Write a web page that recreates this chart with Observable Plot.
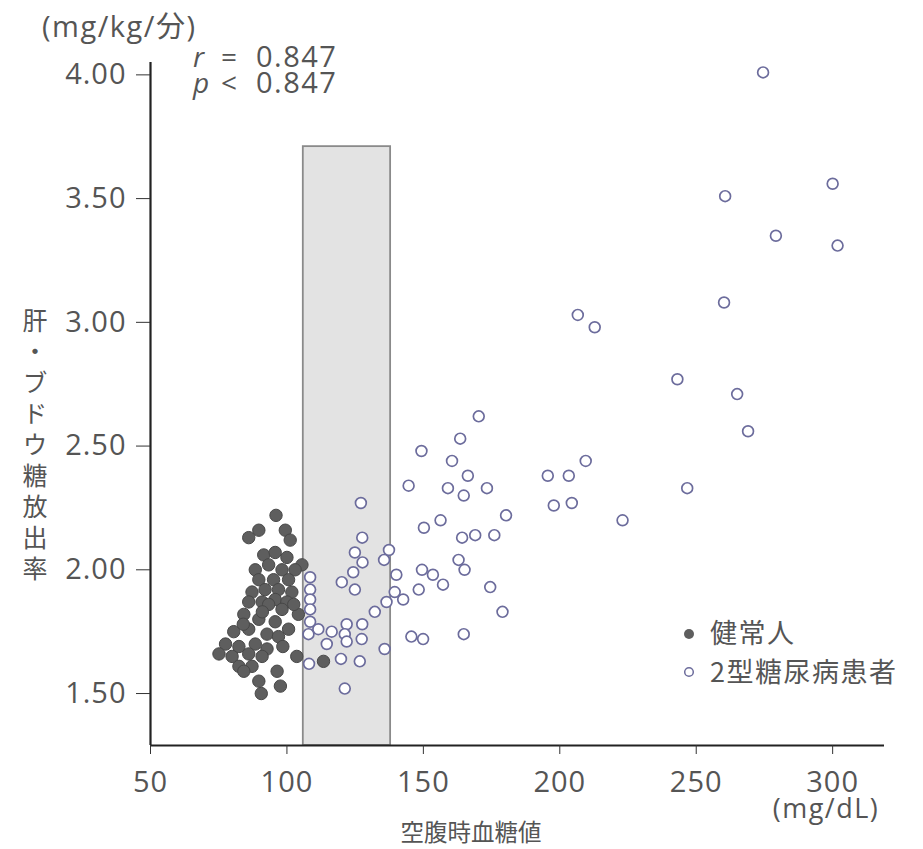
<!DOCTYPE html>
<html>
<head>
<meta charset="utf-8">
<script src="https://cdn.jsdelivr.net/npm/d3@7"></script>
<script src="https://cdn.jsdelivr.net/npm/@observablehq/plot@0.6"></script>
<style>
  html, body { margin: 0; padding: 0; background: #fff; }
  svg { display: block; }
</style>
</head>
<body>
<div id="chart"></div>
<script>
// ---- data ----
const healthyX = [96.0, 89.7, 86.0, 99.4, 101.2, 91.5, 95.7, 100.0, 105.5, 88.4, 93.3, 98.2, 103.0, 89.7, 95.1, 100.6, 87.2, 92.0, 96.9, 101.8, 86.0, 90.9, 95.7, 100.0, 93.3, 98.2, 104.2, 84.2, 89.7, 95.7, 100.6, 80.5, 86.0, 92.7, 96.9, 77.5, 82.4, 88.4, 92.7, 75.1, 79.9, 86.0, 90.9, 82.4, 87.2, 84.2, 96.4, 89.7, 97.6, 90.6, 103.6, 113.4, 91.0, 84.0, 98.5, 102.5];
const healthyY = [2.22, 2.16, 2.13, 2.16, 2.12, 2.06, 2.07, 2.05, 2.02, 2.00, 2.02, 2.00, 2.00, 1.96, 1.96, 1.96, 1.91, 1.92, 1.92, 1.91, 1.87, 1.87, 1.88, 1.87, 1.86, 1.84, 1.82, 1.82, 1.80, 1.79, 1.76, 1.75, 1.76, 1.74, 1.73, 1.70, 1.69, 1.70, 1.68, 1.66, 1.65, 1.66, 1.65, 1.61, 1.61, 1.59, 1.59, 1.55, 1.53, 1.50, 1.65, 1.63, 1.83, 1.78, 1.69, 1.86];

const diabetesX = [274.5, 300.0, 260.6, 279.2, 301.8, 260.2, 206.6, 212.8, 243.1, 265.0, 269.0, 246.7, 223.0, 209.5, 195.6, 203.3, 197.8, 204.4, 170.3, 163.5, 149.3, 160.5, 166.3, 144.6, 159.0, 164.8, 173.3, 180.3, 156.3, 150.2, 164.2, 169.0, 176.0, 162.9, 165.1, 149.5, 153.5, 157.2, 148.3, 142.6, 174.5, 179.0, 145.6, 149.9, 164.8, 127.1, 127.6, 124.9, 127.7, 137.4, 135.6, 124.3, 140.1, 108.5, 120.1, 108.5, 124.9, 108.5, 139.5, 136.5, 132.2, 108.5, 108.5, 111.5, 116.4, 121.9, 127.6, 107.9, 121.2, 127.4, 121.9, 114.6, 135.8, 119.8, 126.7, 108.1, 121.2];
const diabetesY = [4.01, 3.56, 3.51, 3.35, 3.31, 3.08, 3.03, 2.98, 2.77, 2.71, 2.56, 2.33, 2.20, 2.44, 2.38, 2.38, 2.26, 2.27, 2.62, 2.53, 2.48, 2.44, 2.38, 2.34, 2.33, 2.30, 2.33, 2.22, 2.20, 2.17, 2.13, 2.14, 2.14, 2.04, 2.00, 2.00, 1.98, 1.94, 1.92, 1.88, 1.93, 1.83, 1.73, 1.72, 1.74, 2.27, 2.13, 2.07, 2.03, 2.08, 2.04, 1.99, 1.98, 1.97, 1.95, 1.92, 1.92, 1.88, 1.91, 1.87, 1.83, 1.84, 1.79, 1.76, 1.75, 1.78, 1.78, 1.74, 1.74, 1.72, 1.71, 1.70, 1.68, 1.64, 1.63, 1.62, 1.52];

const xTicks = [50, 100, 150, 200, 250, 300];
const yTicks = [1.5, 2.0, 2.5, 3.0, 3.5, 4.0];
const bandRange = [106, 138];   // shaded fasting glucose band (mg/dL)
const bandTop = 3.71;
const statR = "0.847";
const statP = "0.847";
const legendLabels = ["健常人", "2型糖尿病患者"];
const xLabel = "空腹時血糖値";
const xUnit = "(mg/dL)";
const yLabel = "肝・ブドウ糖放出率";
const yUnit = "(mg/kg/分)";

const xDomain = [50, 319];
const yDomain = [1.29, 4.05];

// ---- build ----
const healthy = healthyX.map((x, i) => ({x, y: healthyY[i]}));
const diabetes = diabetesX.map((x, i) => ({x, y: diabetesY[i]}));
const band = [{x1: bandRange[0], x2: bandRange[1], y1: yDomain[0], y2: bandTop}];

const textColor = "#555";
const latinFont = "'Open Sans', 'Noto Sans CJK JP', sans-serif";
const cjkFont = "'Noto Sans CJK JP', sans-serif";

const plot = Plot.plot({
  width: 923,
  height: 849,
  marginLeft: 150,
  marginRight: 39,
  marginTop: 62,
  marginBottom: 104,
  style: {fontFamily: latinFont, fontSize: "29px", letterSpacing: "1px", color: textColor, background: "#fff"},
  x: {domain: xDomain},
  y: {domain: yDomain},
  marks: [
    Plot.rect(band, {x1: "x1", x2: "x2", y1: "y1", y2: "y2", fill: "#e3e3e3", stroke: "#8a8a8a", strokeWidth: 1.8}),
    Plot.dot(healthy, {x: "x", y: "y", r: 6.2, fill: "#5e5e5e", stroke: "#484848", strokeWidth: 1}),
    Plot.dot(diabetes, {x: "x", y: "y", r: 5.4, fill: "#fff", stroke: "#6c6c9c", strokeWidth: 1.7}),
    Plot.ruleX([xDomain[0]], {stroke: "#222", strokeWidth: 2.2}),
    Plot.ruleY([yDomain[0]], {stroke: "#222", strokeWidth: 2.2}),
    Plot.axisX({ticks: xTicks, tickSize: 9, tickPadding: 17, label: null, stroke: "#333", fill: textColor, tickFormat: d3.format("d")}),
    Plot.axisY({ticks: yTicks, tickSize: 14, tickPadding: 10, label: null, stroke: "#333", fill: textColor, tickFormat: d3.format(".2f")})
  ]
});
document.getElementById("chart").appendChild(plot);

// ---- annotations ----
const svg = d3.select(plot);
const ann = svg.append("g").attr("text-anchor", "start").attr("fill", textColor);

// y unit
ann.append("text").attr("x", 42).attr("y", 37)
  .attr("font-family", latinFont).attr("font-size", 29).attr("letter-spacing", 1.5)
  .text(yUnit);

// stats
function statLine(sym, op, val, y) {
  ann.append("text").attr("x", 193).attr("y", y).attr("font-family", latinFont)
    .attr("font-size", 28).attr("font-style", "italic").attr("letter-spacing", 0).text(sym);
  ann.append("text").attr("x", 221).attr("y", y).attr("font-family", latinFont)
    .attr("font-size", 28).attr("letter-spacing", 0).text(op);
  ann.append("text").attr("x", 256).attr("y", y).attr("font-family", latinFont)
    .attr("font-size", 29).attr("letter-spacing", 1.5).text(val);
}
statLine("r", "=", statR, 67);
statLine("p", "<", statP, 93);

// y label (vertical)
ann.append("text")
  .attr("transform", "translate(35,447)")
  .attr("text-anchor", "middle")
  .attr("writing-mode", "vertical-rl")
  .style("text-orientation", "upright")
  .attr("font-family", cjkFont).attr("font-size", 25).attr("letter-spacing", 6)
  .text(yLabel);

// x label & unit
ann.append("text").attr("x", 471).attr("y", 841).attr("text-anchor", "middle")
  .attr("font-family", cjkFont).attr("font-size", 23.5).attr("letter-spacing", 0)
  .text(xLabel);
ann.append("text").attr("x", 826).attr("y", 818).attr("text-anchor", "middle")
  .attr("font-family", latinFont).attr("font-size", 27).attr("letter-spacing", 1.5)
  .text(xUnit);

// legend
const lg = ann.append("g");
lg.append("circle").attr("cx", 689).attr("cy", 634).attr("r", 5).attr("fill", "#5e5e5e");
lg.append("circle").attr("cx", 689).attr("cy", 672).attr("r", 4.3).attr("fill", "#fff").attr("stroke", "#6c6c9c").attr("stroke-width", 1.5);
lg.append("text").attr("x", 710).attr("y", 643).attr("font-family", cjkFont).attr("font-size", 27).attr("letter-spacing", 1.5).text(legendLabels[0]);
lg.append("text").attr("x", 710).attr("y", 682).attr("font-family", cjkFont).attr("font-size", 27).attr("letter-spacing", 1.5).text(legendLabels[1]);
</script>
</body>
</html>
